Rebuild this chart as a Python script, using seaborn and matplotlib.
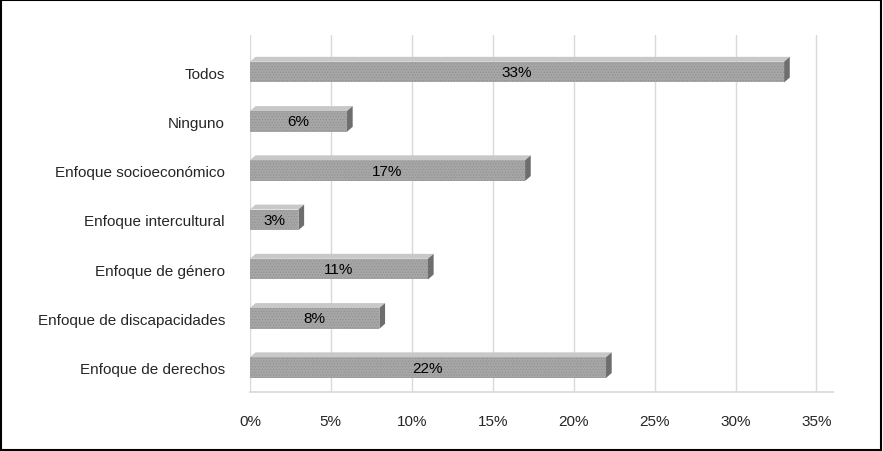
import matplotlib
matplotlib.use("Agg")
import matplotlib.pyplot as plt
import seaborn as sns
import pandas as pd
from matplotlib.patches import Polygon

categories = ["Todos", "Ninguno", "Enfoque socioeconómico", "Enfoque intercultural",
              "Enfoque de género", "Enfoque de discapacidades", "Enfoque de derechos"]
values = [33, 6, 17, 3, 11, 8, 22]
ticks = [0, 5, 10, 15, 20, 25, 30, 35]
tick_labels = [f"{t}%" for t in ticks]

df = pd.DataFrame({"cat": categories, "val": values})

sns.set_theme(style="white")
plt.rcParams['font.family'] = ['Liberation Sans', 'DejaVu Sans']
plt.rcParams['hatch.color'] = '#8c8c8c'
plt.rcParams['hatch.linewidth'] = 0.4
fig = plt.figure(figsize=(8.83, 4.52), dpi=100)
ax = fig.add_axes([0.283, 0.13, 0.66, 0.79])
sns.barplot(data=df, y="cat", x="val", orient="h", color="#a6a6a6", width=0.42,
            ax=ax, edgecolor="#8c8c8c", hatch="......", linewidth=0.0)
for p in ax.patches:
    x0, y0 = p.get_x(), p.get_y()
    w, h = p.get_width(), p.get_height()
    dx, dy = 0.35, -0.1
    ax.add_patch(Polygon([[x0, y0], [x0 + dx, y0 + dy], [x0 + w + dx, y0 + dy], [x0 + w, y0]],
                         closed=True, facecolor="#c8c8c8", edgecolor="none"))
    ax.add_patch(Polygon([[x0 + w, y0], [x0 + w + dx, y0 + dy], [x0 + w + dx, y0 + h + dy], [x0 + w, y0 + h]],
                         closed=True, facecolor="#6e6e6e", edgecolor="none"))
    ax.text(x0 + w / 2, y0 + h / 2, f"{int(w)}%", ha="center", va="center", fontsize=11, color="black")
ax.set_xlim(0, 36)
ax.set_ylim(6.5, -0.75)
ax.set_xticks(ticks)
ax.set_xticklabels(tick_labels, fontsize=11)
ax.tick_params(axis="y", labelsize=11, length=0, pad=18)
ax.tick_params(axis="x", length=0, pad=16)
ax.set_xlabel("")
ax.set_ylabel("")
ax.grid(axis="x", color="#d9d9d9", linewidth=1)
ax.set_axisbelow(True)
for s in ["top", "right", "left"]:
    ax.spines[s].set_visible(False)
ax.spines["bottom"].set_color("#d9d9d9")
fig.patches.append(matplotlib.patches.Rectangle((0.001, 0.002), 0.997, 0.995, transform=fig.transFigure,
                                                fill=False, edgecolor="black", linewidth=1.5))
fig.savefig("out.png", dpi=100)
